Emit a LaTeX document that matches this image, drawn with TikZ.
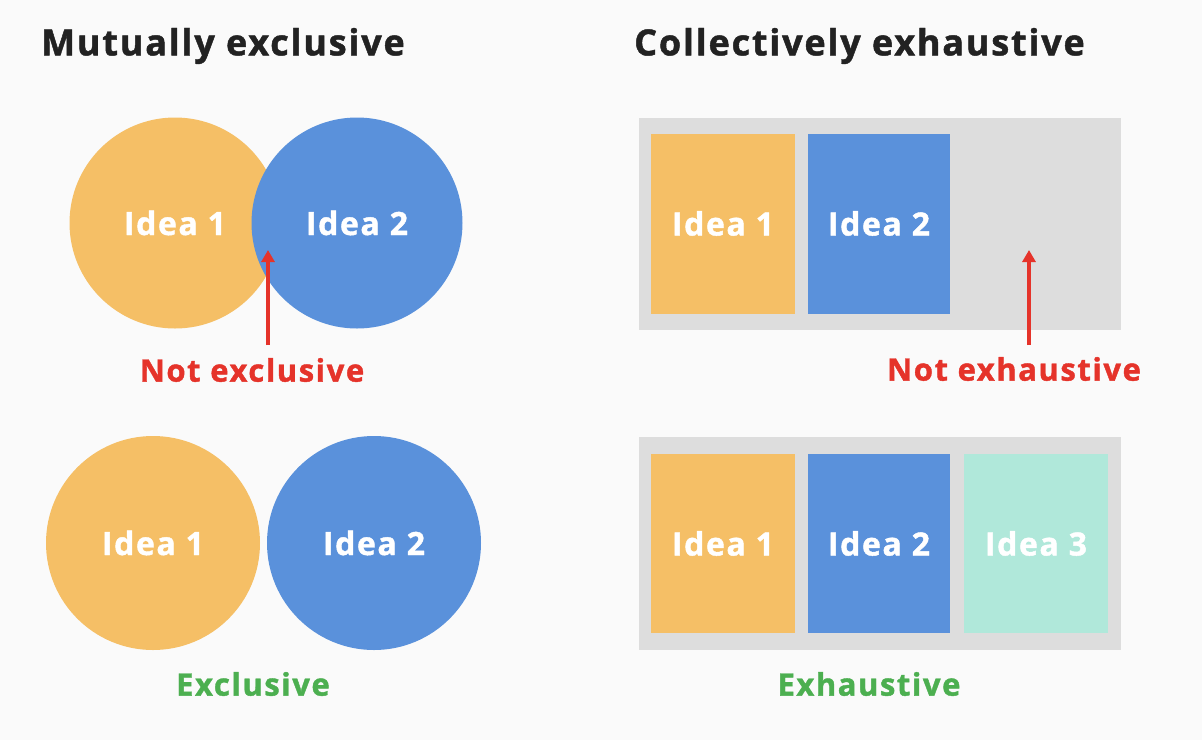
\documentclass[tikz,border=0pt]{standalone}
\usepackage{fontspec}
\setmainfont{Open Sans}[BoldFeatures={FakeBold=1.3, LetterSpace=5}]
\usetikzlibrary{arrows.meta}
\definecolor{bgc}{HTML}{FAFAFA}
\definecolor{orng}{HTML}{F5BF66}
\definecolor{blu}{HTML}{5A91DB}
\definecolor{teal3}{HTML}{B0E8DA}
\definecolor{graybox}{HTML}{DDDDDD}
\definecolor{redc}{HTML}{E5332A}
\definecolor{greenc}{HTML}{4CAF50}
\definecolor{titlec}{HTML}{222222}
\tikzset{
  title/.style={font=\bfseries\fontsize{36}{42}\selectfont, text=titlec, anchor=west, inner sep=0pt},
  idea/.style={font=\bfseries\fontsize{32}{38}\selectfont, text=white, inner sep=0pt},
  circ/.style={circle, minimum size=#1, inner sep=0pt},
  rectbox/.style={rectangle, minimum width=144pt, minimum height=180pt, inner sep=0pt},
  badlabel/.style={font=\bfseries\fontsize{31}{36}\selectfont, text=redc, inner sep=0pt},
  goodlabel/.style={font=\bfseries\fontsize{31}{36}\selectfont, text=greenc, inner sep=0pt},
  redarrow/.style={draw=redc, line width=3.5pt, -{Triangle[width=13pt,length=12pt]}}
}
\begin{document}
\begin{tikzpicture}[x=1pt,y=-1pt]
\fill[bgc] (0,0) rectangle (1202,740);
\useasboundingbox (0,0) rectangle (1202,740);

% titles
\node[title] (t1) at (41,46) {Mutually exclusive};
\node[title] (t2) at (634,46) {Collectively exhaustive};

% left top: overlapping circles
\node[circ=211pt, fill=orng] (c1) at (175,223) {};
\node[circ=211pt, fill=blu] (c2) at (357,223) {};
\node[idea] at (c1) {Idea 1};
\node[idea] at (c2) {Idea 2};
\node[badlabel] (ne) at (252,370) {Not exclusive};
\coordinate (ns) at (268,345);
\coordinate (nt) at (268,250);
\draw[redarrow] (ns) -- (nt);

% left bottom: separate circles
\node[circ=214pt, fill=orng] (c3) at (153,543) {};
\node[circ=214pt, fill=blu] (c4) at (374,543) {};
\node[idea] at (c3) {Idea 1};
\node[idea] at (c4) {Idea 2};
\node[goodlabel] (ex) at (253,684) {Exclusive};

% right top
\node[rectangle, fill=graybox, minimum width=482pt, minimum height=212pt, inner sep=0pt] (g1) at (880,224) {};
\node[rectbox, fill=orng] (r1) at (723,223.5) {};
\node[rectbox, fill=blu, minimum width=142pt] (r2) at (879,223.5) {};
\node[idea] at (r1) {Idea 1};
\node[idea] at (r2) {Idea 2};
\node[badlabel] (nx) at (1014,369) {Not exhaustive};
\coordinate (xs) at (1029,345);
\coordinate (xt) at (1029,250);
\draw[redarrow] (xs) -- (xt);

% right bottom
\node[rectangle, fill=graybox, minimum width=482pt, minimum height=213pt, inner sep=0pt] (g2) at (880,543.5) {};
\node[rectbox, fill=orng, minimum height=179pt] (r3) at (723,543.5) {};
\node[rectbox, fill=blu, minimum width=142pt, minimum height=179pt] (r4) at (879,543.5) {};
\node[rectbox, fill=teal3, minimum height=179pt] (r5) at (1036,543.5) {};
\node[idea] at (r3) {Idea 1};
\node[idea] at (r4) {Idea 2};
\node[idea] at (r5) {Idea 3};
\node[goodlabel] (eh) at (869,684) {Exhaustive};
\end{tikzpicture}
\end{document}
